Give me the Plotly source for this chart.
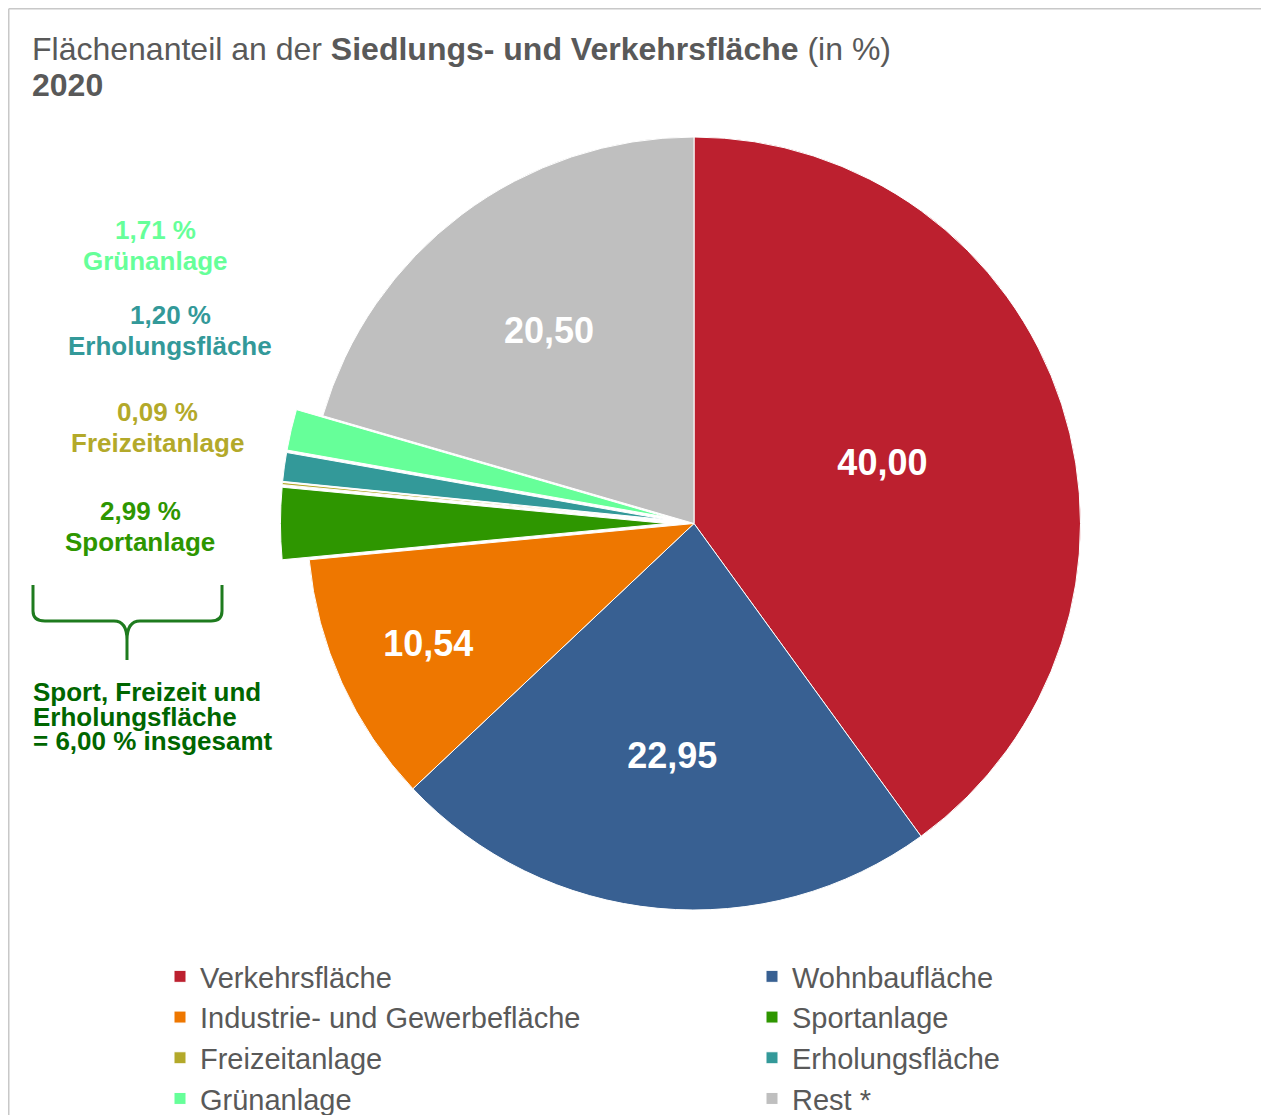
import plotly.graph_objects as go

W, H = 1269, 1115
OFF = 8  # page body margin: screen = figure + OFF

categories = ["Verkehrsfläche", "Wohnbaufläche", "Industrie- und Gewerbefläche",
              "Sportanlage", "Freizeitanlage", "Erholungsfläche", "Grünanlage", "Rest *"]
values = [40.00, 22.95, 10.54, 2.99, 0.09, 1.20, 1.71, 20.50]
colors = ["#BC202F", "#386092", "#EE7700", "#2E9600", "#B3A92A", "#339999", "#66FF99", "#BFBFBF"]
pulls = [0, 0, 0, 0.07, 0.07, 0.07, 0.07, 0]
text_pos = ["inside", "inside", "inside", "none", "none", "none", "none", "inside"]

# side labels for the small slices (index, center x px, first line y px)
side_labels = [(6, 155, 230), (5, 170, 315), (4, 157, 412), (3, 140, 511)]

group_lines = ["Sport, Freizeit und", "Erholungsfläche", "= 6,00 % insgesamt"]

FONT = "Liberation Sans, Arial, sans-serif"


def px(x):
    return (x - OFF) / W


def py(y):
    return 1 - (y - OFF) / H


cx, cy, r = 694, 523.5, 386.5
maxpull = max(pulls)
half = r * (1 + maxpull)

fig = go.Figure(go.Pie(
    labels=categories,
    values=values,
    sort=False,
    direction="clockwise",
    rotation=0,
    pull=pulls,
    marker=dict(colors=colors, line=dict(color="white", width=1)),
    texttemplate="%{value:.2f}",
    textposition=text_pos,
    insidetextorientation="horizontal",
    textfont=dict(color="white", size=36, family=FONT, weight="bold"),
    hoverinfo="label+value",
    domain=dict(x=[px(cx - half), px(cx + half)], y=[py(cy + half), py(cy - half)]),
))

annotations = []
# title
annotations.append(dict(
    text="Flächenanteil an der <b>Siedlungs- und Verkehrsfläche</b> (in %)",
    x=px(30), y=py(49), xref="paper", yref="paper", xanchor="left", yanchor="middle",
    showarrow=False, font=dict(size=32, color="#595959", family=FONT)))
annotations.append(dict(
    text="<b>2020</b>",
    x=px(30), y=py(85), xref="paper", yref="paper", xanchor="left", yanchor="middle",
    showarrow=False, font=dict(size=32, color="#595959", family=FONT)))

for idx, x0, y0 in side_labels:
    val = f"{values[idx]:.2f}".replace(".", ",") + " %"
    for k, t in enumerate([val, categories[idx]]):
        annotations.append(dict(
            text=f"<b>{t}</b>", x=px(x0), y=py(y0 + 31 * k), xref="paper", yref="paper",
            xanchor="center", yanchor="middle", showarrow=False,
            font=dict(size=26, color=colors[idx], family=FONT)))

for k, t in enumerate(group_lines):
    annotations.append(dict(
        text=f"<b>{t}</b>", x=px(31), y=py(692 + 24.5 * k), xref="paper", yref="paper",
        xanchor="left", yanchor="middle", showarrow=False,
        font=dict(size=26, color="#006600", family=FONT)))


# brace path in paper coords
def P(x, y):
    return f"{px(x):.5f},{py(y):.5f}"


brace = (f"M{P(33,585)} L{P(33,611)} Q{P(33,621)} {P(45,621)} L{P(114,621)} "
         f"Q{P(127,621)} {P(127,640)} L{P(127,660)} L{P(127,640)} "
         f"Q{P(127,621)} {P(140,621)} L{P(211,621)} Q{P(222,621)} {P(222,611)} L{P(222,585)}")

shapes = [
    dict(type="path", path=brace, xref="paper", yref="paper",
         line=dict(color="#1E7B1E", width=3)),
    dict(type="line", x0=px(8.75), x1=1, y0=py(8.75), y1=py(8.75), xref="paper", yref="paper",
         line=dict(color="#C8C8C8", width=1.5)),
    dict(type="line", x0=px(8.75), x1=px(8.75), y0=py(8.75), y1=0, xref="paper", yref="paper",
         line=dict(color="#C8C8C8", width=1.5)),
]

fig.update_layout(
    width=W, height=H,
    margin=dict(l=0, r=0, t=0, b=0, autoexpand=False),
    paper_bgcolor="white",
    separators=",.",
    annotations=annotations,
    shapes=shapes,
    legend=dict(
        orientation="h", x=px(160), y=py(951), xanchor="left", yanchor="top",
        font=dict(size=29, color="#595959", family=FONT),
        entrywidth=547, entrywidthmode="pixels", itemwidth=30,
        traceorder="normal",
    ),
)

fig.write_html("out.html")
